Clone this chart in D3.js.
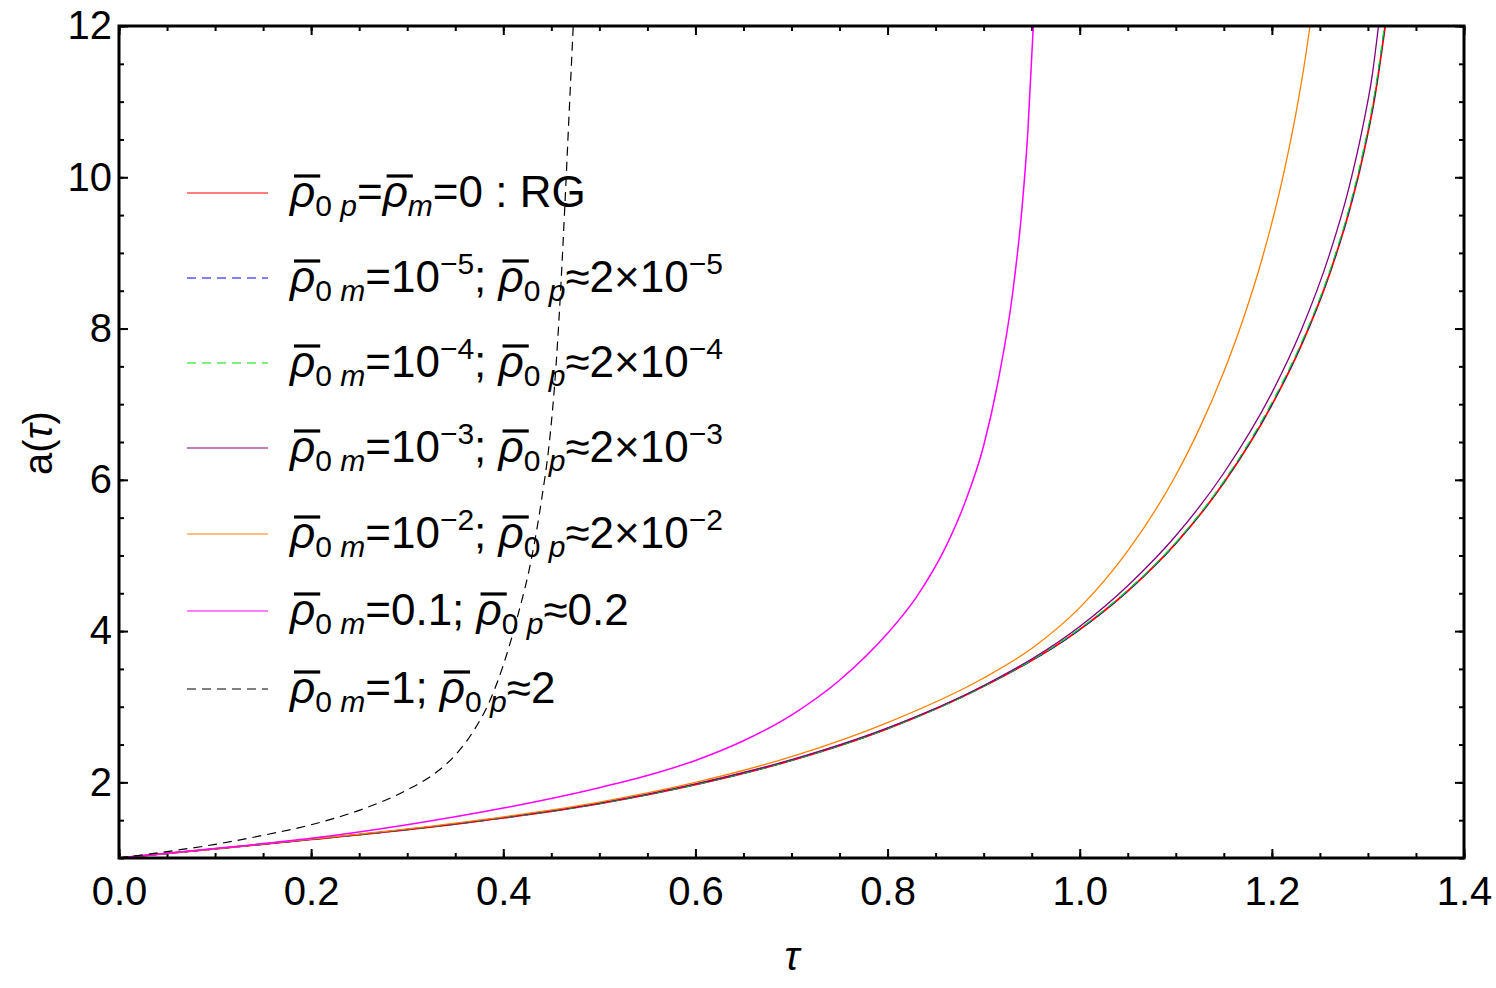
<!DOCTYPE html>
<html lang="en">
<head>
<meta charset="utf-8">
<title>a(tau)</title>
<script src="https://d3js.org/d3.v7.min.js"></script>
<style>
  body { margin: 0; background: #fff; }
  text { font-family: "Liberation Sans", Arial, Helvetica, sans-serif; white-space: pre; }
</style>
</head>
<body>
<svg width="1496" height="988"></svg>
<script>
// values: tau -> a(tau)
var tauRG  = [0, 0.1, 0.2, 0.3, 0.4, 0.5, 0.6, 0.7, 0.8, 0.9, 1.0, 1.05, 1.1, 1.15, 1.2, 1.23, 1.26, 1.28, 1.295, 1.3075, 1.318];
var aRG    = [1, 1.12, 1.245, 1.375, 1.53, 1.72, 1.97, 2.29, 2.71, 3.27, 4.02, 4.53, 5.16, 5.96, 6.99, 7.76, 8.72, 9.53, 10.29, 11.09, 12];

var tauM5  = [0, 0.1, 0.2, 0.3, 0.4, 0.5, 0.6, 0.7, 0.8, 0.9, 1.0, 1.05, 1.1, 1.15, 1.2, 1.23, 1.26, 1.28, 1.295, 1.3075, 1.3176];
var aM5    = [1, 1.12, 1.245, 1.375, 1.53, 1.72, 1.97, 2.29, 2.71, 3.27, 4.02, 4.53, 5.16, 5.97, 7.0, 7.77, 8.73, 9.54, 10.31, 11.11, 12];

var tauM4  = [0, 0.1, 0.2, 0.3, 0.4, 0.5, 0.6, 0.7, 0.8, 0.9, 1.0, 1.05, 1.1, 1.15, 1.2, 1.23, 1.26, 1.28, 1.295, 1.3075, 1.3172];
var aM4    = [1, 1.12, 1.245, 1.375, 1.53, 1.72, 1.97, 2.29, 2.71, 3.27, 4.03, 4.54, 5.17, 5.98, 7.02, 7.79, 8.75, 9.57, 10.34, 11.15, 12];

var tauM3  = [0, 0.1, 0.2, 0.3, 0.4, 0.5, 0.6, 0.7, 0.8, 0.9, 1.0, 1.05, 1.1, 1.15, 1.2, 1.23, 1.26, 1.28, 1.295, 1.3045, 1.311];
var aM3    = [1, 1.12, 1.247, 1.378, 1.535, 1.725, 1.98, 2.30, 2.72, 3.28, 4.06, 4.60, 5.26, 6.09, 7.15, 7.96, 8.98, 9.85, 10.69, 11.35, 12];

var tauM2  = [0, 0.1, 0.2, 0.3, 0.4, 0.5, 0.6, 0.7, 0.8, 0.9, 0.95, 1.0, 1.05, 1.1, 1.125, 1.15, 1.17, 1.19, 1.21, 1.225, 1.235, 1.2397];
var aM2    = [1, 1.12, 1.25, 1.385, 1.545, 1.74, 2.0, 2.34, 2.79, 3.38, 3.77, 4.31, 5.06, 6.06, 6.69, 7.43, 8.12, 8.93, 9.92, 10.84, 11.59, 12];

var tauM1  = [0, 0.1, 0.2, 0.3, 0.4, 0.5, 0.55, 0.6, 0.65, 0.7, 0.75, 0.8, 0.83, 0.86, 0.88, 0.9, 0.915, 0.93, 0.94, 0.946, 0.9517];
var aM1    = [1, 1.125, 1.26, 1.44, 1.66, 1.93, 2.09, 2.29, 2.55, 2.89, 3.35, 3.97, 4.45, 5.1, 5.68, 6.45, 7.3, 8.45, 9.6, 10.6, 12];

var tauM0  = [0, 0.05, 0.1, 0.15, 0.2, 0.25, 0.3, 0.33, 0.35, 0.37, 0.385, 0.40, 0.415, 0.43, 0.44, 0.448, 0.454, 0.459, 0.464, 0.468, 0.4728];
var aM0    = [1, 1.085, 1.18, 1.30, 1.44, 1.63, 1.90, 2.13, 2.36, 2.70, 3.05, 3.55, 4.2, 5.0, 5.75, 6.5, 7.35, 8.35, 9.6, 10.7, 12];

var xTicks = [0, 0.2, 0.4, 0.6, 0.8, 1.0, 1.2, 1.4];
var yTicks = [2, 4, 6, 8, 10, 12];

// legend labels: [text, kind]  kind: rho (barred italic rho), n, sub, subi, sup
var labRG = [["ρ","rho"],["0 ","sub"],["p","subi"],["=","n"],["ρ","rho"],["m","subi"],["=0 : RG","n"]];
function powLabel(e) {
    return [["ρ","rho"],["0 ","sub"],["m","subi"],["=10","n"],["−"+e,"sup"],["; ","n"],
            ["ρ","rho"],["0 ","sub"],["p","subi"],["≈2×10","n"],["−"+e,"sup"]];
}
var labM1 = [["ρ","rho"],["0 ","sub"],["m","subi"],["=0.1; ","n"],["ρ","rho"],["0 ","sub"],["p","subi"],["≈0.2","n"]];
var labM0 = [["ρ","rho"],["0 ","sub"],["m","subi"],["=1; ","n"],["ρ","rho"],["0 ","sub"],["p","subi"],["≈2","n"]];

var series = [
    {tau: tauRG, a: aRG, color: "#ff0000", dash: null,  w: 1.8, label: labRG},
    {tau: tauM5, a: aM5, color: "#0000ff", dash: "9,6", w: 1.2, label: powLabel(5)},
    {tau: tauM4, a: aM4, color: "#00e000", dash: "9,6", w: 1.2, label: powLabel(4)},
    {tau: tauM3, a: aM3, color: "#800080", dash: null,  w: 1.3, label: powLabel(3)},
    {tau: tauM2, a: aM2, color: "#ff8000", dash: null,  w: 1.3, label: powLabel(2)},
    {tau: tauM1, a: aM1, color: "#ff00ff", dash: null,  w: 1.5, label: labM1},
    {tau: tauM0, a: aM0, color: "#000000", dash: "9,6", w: 1.2, label: labM0}
];
var legendY = [193, 278, 363, 448, 534, 611, 689];

var svg = d3.select("svg");
var x = d3.scaleLinear().domain([0, 1.4]).range([119, 1464]);
var y = d3.scaleLinear().domain([1, 12]).range([858, 26]);

svg.append("clipPath").attr("id", "clip")
    .append("rect").attr("x", 119).attr("y", 26).attr("width", 1345).attr("height", 832);

// axes (ticks pointing inward, minor ticks every 0.05 / 0.5)
var xMinor = d3.range(0, 1.4001, 0.05), yMinor = d3.range(1, 12.001, 0.5);
function styleAxis(g) {
    g.select(".domain").remove();
    g.selectAll("line").attr("stroke", "#000").attr("stroke-width", 2);
    g.selectAll("text").attr("font-size", 40).attr("fill", "#000")
        .style("font-family", "'Liberation Sans', Arial, sans-serif");
}
svg.append("g").attr("transform", "translate(0,858)")
    .call(d3.axisBottom(x).tickValues(xMinor).tickSize(-5).tickFormat("")).call(styleAxis);
svg.append("g").attr("transform", "translate(0,858)")
    .call(d3.axisBottom(x).tickValues(xTicks).tickSize(-9).tickPadding(19).tickFormat(d3.format(".1f"))).call(styleAxis);
svg.append("g").attr("transform", "translate(0,26)")
    .call(d3.axisTop(x).tickValues(xMinor).tickSize(-5).tickFormat("")).call(styleAxis);
svg.append("g").attr("transform", "translate(0,26)")
    .call(d3.axisTop(x).tickValues(xTicks).tickSize(-9).tickFormat("")).call(styleAxis);
svg.append("g").attr("transform", "translate(119,0)")
    .call(d3.axisLeft(y).tickValues(yMinor).tickSize(-5).tickFormat("")).call(styleAxis);
svg.append("g").attr("transform", "translate(119,0)")
    .call(d3.axisLeft(y).tickValues(yTicks).tickSize(-9).tickPadding(7).tickFormat(d3.format("d"))).call(styleAxis);
svg.append("g").attr("transform", "translate(1464,0)")
    .call(d3.axisRight(y).tickValues(yMinor).tickSize(-5).tickFormat("")).call(styleAxis);
svg.append("g").attr("transform", "translate(1464,0)")
    .call(d3.axisRight(y).tickValues(yTicks).tickSize(-9).tickFormat("")).call(styleAxis);

// curves
var line = d3.line()
    .x(function(d){ return x(d[0]); })
    .y(function(d){ return y(d[1]); })
    .curve(d3.curveMonotoneX);

svg.append("g").attr("clip-path", "url(#clip)")
    .selectAll("path")
    .data(series)
    .enter()
    .append("path")
    .attr("d", function(s){ return line(d3.zip(s.tau, s.a)); })
    .attr("fill", "none")
    .attr("stroke", function(s){ return s.color; })
    .attr("stroke-width", function(s){ return s.w; })
    .attr("stroke-dasharray", function(s){ return s.dash; });

// frame
svg.append("rect").attr("x", 119).attr("y", 26).attr("width", 1345).attr("height", 832)
    .attr("fill", "none").attr("stroke", "#000").attr("stroke-width", 3);

// legend
var fs = 44, fsSmall = 30;
var shift = {n: 0, rho: 0, sub: 9, subi: 9, sup: -18};
series.forEach(function(s, i) {
    var yy = legendY[i];
    svg.append("line").attr("x1", 187).attr("x2", 268).attr("y1", yy).attr("y2", yy)
        .attr("stroke", s.color).attr("stroke-width", 1.2)
        .attr("stroke-dasharray", s.dash);
    var base = yy + 14;
    var t = svg.append("text").attr("x", 290).attr("y", base).attr("font-size", fs).attr("fill", "#000");
    var cur = 0, idx = 0, rhos = [];
    s.label.forEach(function(p) {
        var k = p[1];
        var ts = t.append("tspan").text(p[0]).attr("dy", shift[k] - cur);
        cur = shift[k];
        if (k === "sub" || k === "subi" || k === "sup") ts.attr("font-size", fsSmall);
        if (k === "rho" || k === "subi") ts.attr("font-style", "italic");
        if (k === "rho") rhos.push(idx);
        idx += p[0].length;
    });
    rhos.forEach(function(ci) {
        var r = t.node().getExtentOfChar(ci);
        svg.append("line")
            .attr("x1", r.x + 4).attr("x2", r.x + r.width + 5)
            .attr("y1", base - 31).attr("y2", base - 31)
            .attr("stroke", "#000").attr("stroke-width", 3.2);
    });
});

// axis titles
svg.append("text").attr("x", 792).attr("y", 970).attr("text-anchor", "middle")
    .attr("font-size", 40).attr("font-style", "italic").text("τ");
var yl = svg.append("text").attr("transform", "translate(52,443) rotate(-90)")
    .attr("text-anchor", "middle").attr("font-size", 40);
yl.append("tspan").text("a(");
yl.append("tspan").attr("font-style", "italic").text("τ");
yl.append("tspan").text(")");
</script>
</body>
</html>
